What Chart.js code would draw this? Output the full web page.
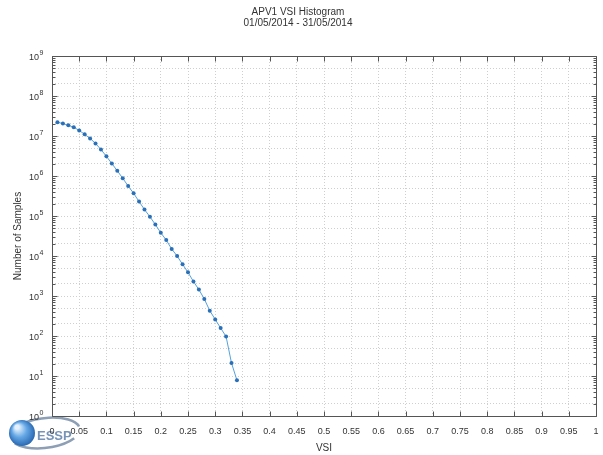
<!DOCTYPE html>
<html>
<head>
<meta charset="utf-8">
<script src="https://cdn.jsdelivr.net/npm/chart.js"></script>
<style>
  html, body { margin: 0; padding: 0; background: #fff; }
</style>
</head>
<body>
<canvas id="chart" width="603" height="455"></canvas>
<script>
// data
const vsiBins = [0.01, 0.02, 0.03, 0.04, 0.05, 0.06, 0.07, 0.08, 0.09, 0.10,
                 0.11, 0.12, 0.13, 0.14, 0.15, 0.16, 0.17, 0.18, 0.19, 0.20,
                 0.21, 0.22, 0.23, 0.24, 0.25, 0.26, 0.27, 0.28, 0.29, 0.30,
                 0.31, 0.32, 0.33, 0.34];
const sampleCounts = [2.2e7, 2.05e7, 1.85e7, 1.65e7, 1.38e7, 1.1e7, 8.7e6, 6.5e6, 4.6e6, 3.1e6,
                      2.05e6, 1.35e6, 8.8e5, 5.6e5, 3.7e5, 2.3e5, 1.45e5, 9.6e4, 6.1e4, 3.8e4,
                      2.5e4, 1.5e4, 1.0e4, 6.2e3, 3.9e3, 2.3e3, 1.45e3, 840, 430, 260,
                      158, 97, 21, 7.8];
const titleLines = ['APV1 VSI Histogram', '01/05/2014 - 31/05/2014'];
const xLabel = 'VSI';
const yLabel = 'Number of Samples';
const xTickStep = 0.05;
const yDecades = [0, 1, 2, 3, 4, 5, 6, 7, 8, 9];
const yGridSteps = [1, 2, 5];

const FONT = "'Liberation Sans', Arial, sans-serif";
const TEXT = '#333';

// grid values on log axis: 1, 2, 5 per decade
const yGridValues = [];
yDecades.forEach(d => {
  yGridSteps.forEach(m => {
    if (d < 9 || m === 1) yGridValues.push(m * Math.pow(10, d));
  });
});

// box, inward tick marks, power-of-ten labels and the logo
const framePlugin = {
  id: 'frame',
  beforeDraw(chart) {
    const ctx = chart.ctx;
    ctx.save();
    // logo swoosh
    ctx.strokeStyle = '#8d9fb5';
    ctx.lineWidth = 2.5;
    ctx.beginPath();
    ctx.ellipse(45, 433, 35, 15, -0.12, Math.PI * 1.05, Math.PI * 1.95);
    ctx.stroke();
    ctx.beginPath();
    ctx.ellipse(45, 433, 35, 15, -0.12, Math.PI * 0.2, Math.PI * 0.85);
    ctx.stroke();
    // sphere
    const g = ctx.createRadialGradient(17, 427, 2, 22, 433, 14);
    g.addColorStop(0, '#e4f1fd');
    g.addColorStop(0.45, '#66a8e6');
    g.addColorStop(1, '#2262ad');
    ctx.fillStyle = g;
    ctx.beginPath();
    ctx.arc(22, 433, 13, 0, Math.PI * 2);
    ctx.fill();
    ctx.fillStyle = '#7594b8';
    ctx.font = "bold 13px " + FONT;
    ctx.textBaseline = 'alphabetic';
    ctx.fillText('ESSP', 37, 440);
    ctx.restore();
  },
  afterDraw(chart) {
    const ctx = chart.ctx;
    const a = chart.chartArea;
    const xs = chart.scales.x, ys = chart.scales.y;
    const L = Math.round(a.left) + 0.5, R = Math.round(a.right) + 0.5;
    const T = Math.round(a.top) + 0.5, B = Math.round(a.bottom) + 0.5;
    ctx.save();
    ctx.strokeStyle = '#555';
    ctx.lineWidth = 1;
    ctx.beginPath();
    ctx.rect(L, T, R - L, B - T);
    // x ticks, top and bottom
    for (let v = 0; v <= 1.0001; v += xTickStep) {
      const px = Math.round(xs.getPixelForValue(v)) + 0.5;
      ctx.moveTo(px, B); ctx.lineTo(px, B - 5);
      ctx.moveTo(px, T); ctx.lineTo(px, T + 5);
    }
    // y ticks, major and minor
    yDecades.forEach(d => {
      for (let m = 1; m <= 9; m++) {
        if (d === 9 && m > 1) break;
        const py = Math.round(ys.getPixelForValue(m * Math.pow(10, d))) + 0.5;
        const len = m === 1 ? 5 : 3;
        ctx.moveTo(L, py); ctx.lineTo(L + len, py);
        ctx.moveTo(R, py); ctx.lineTo(R - len, py);
      }
    });
    ctx.stroke();

    // y labels as 10 with a raised exponent
    ctx.fillStyle = TEXT;
    ctx.textBaseline = 'middle';
    yDecades.forEach(d => {
      const py = ys.getPixelForValue(Math.pow(10, d));
      ctx.font = "9px " + FONT;
      ctx.textAlign = 'right';
      ctx.fillText('10', 39, py + 2);
      ctx.font = "7px " + FONT;
      ctx.textAlign = 'left';
      ctx.fillText(String(d), 39.5, py - 3);
    });
    ctx.restore();
  }
};

new Chart(document.getElementById('chart'), {
  type: 'scatter',
  data: {
    datasets: [{
      data: vsiBins.map((x, i) => ({ x: x, y: sampleCounts[i] })),
      showLine: true,
      borderColor: '#55a2dc',
      borderWidth: 1,
      pointRadius: 2,
      pointBackgroundColor: '#2a70b8',
      pointBorderColor: '#2a70b8',
      pointBorderWidth: 0
    }]
  },
  options: {
    responsive: false,
    animation: false,
    layout: { padding: { left: 0, right: 7, top: 0, bottom: 0 } },
    plugins: {
      legend: { display: false },
      tooltip: { enabled: false },
      title: {
        display: true,
        text: titleLines,
        color: TEXT,
        font: { family: FONT, size: 10, weight: 'normal', lineHeight: 1.15 },
        padding: { top: 6, bottom: 27 }
      }
    },
    scales: {
      x: {
        type: 'linear',
        min: 0,
        max: 1,
        afterFit(scale) {
          scale.height = 39;
          scale.paddingLeft = 0;
          scale.paddingRight = 0;
        },
        ticks: {
          stepSize: xTickStep,
          autoSkip: false,
          maxRotation: 0,
          padding: 10,
          color: TEXT,
          font: { family: FONT, size: 9 },
          callback: v => String(+v.toFixed(2))
        },
        grid: { color: '#cfcfcf', drawTicks: false },
        border: { display: false, dash: [1, 2] },
        title: {
          display: true,
          text: xLabel,
          color: TEXT,
          font: { family: FONT, size: 10 },
          padding: { top: 2, bottom: 1 }
        }
      },
      y: {
        type: 'logarithmic',
        min: 1,
        max: 1e9,
        afterFit(scale) { scale.width = 52; },
        afterBuildTicks(scale) {
          scale.ticks = yGridValues.map(v => ({ value: v }));
        },
        ticks: { display: false, autoSkip: false },
        grid: { color: '#cfcfcf', drawTicks: false },
        border: { display: false, dash: [1, 2] },
        title: {
          display: true,
          text: yLabel,
          color: TEXT,
          font: { family: FONT, size: 10 },
          padding: { top: 12, bottom: 12 }
        }
      }
    }
  },
  plugins: [framePlugin]
});
</script>
</body>
</html>
